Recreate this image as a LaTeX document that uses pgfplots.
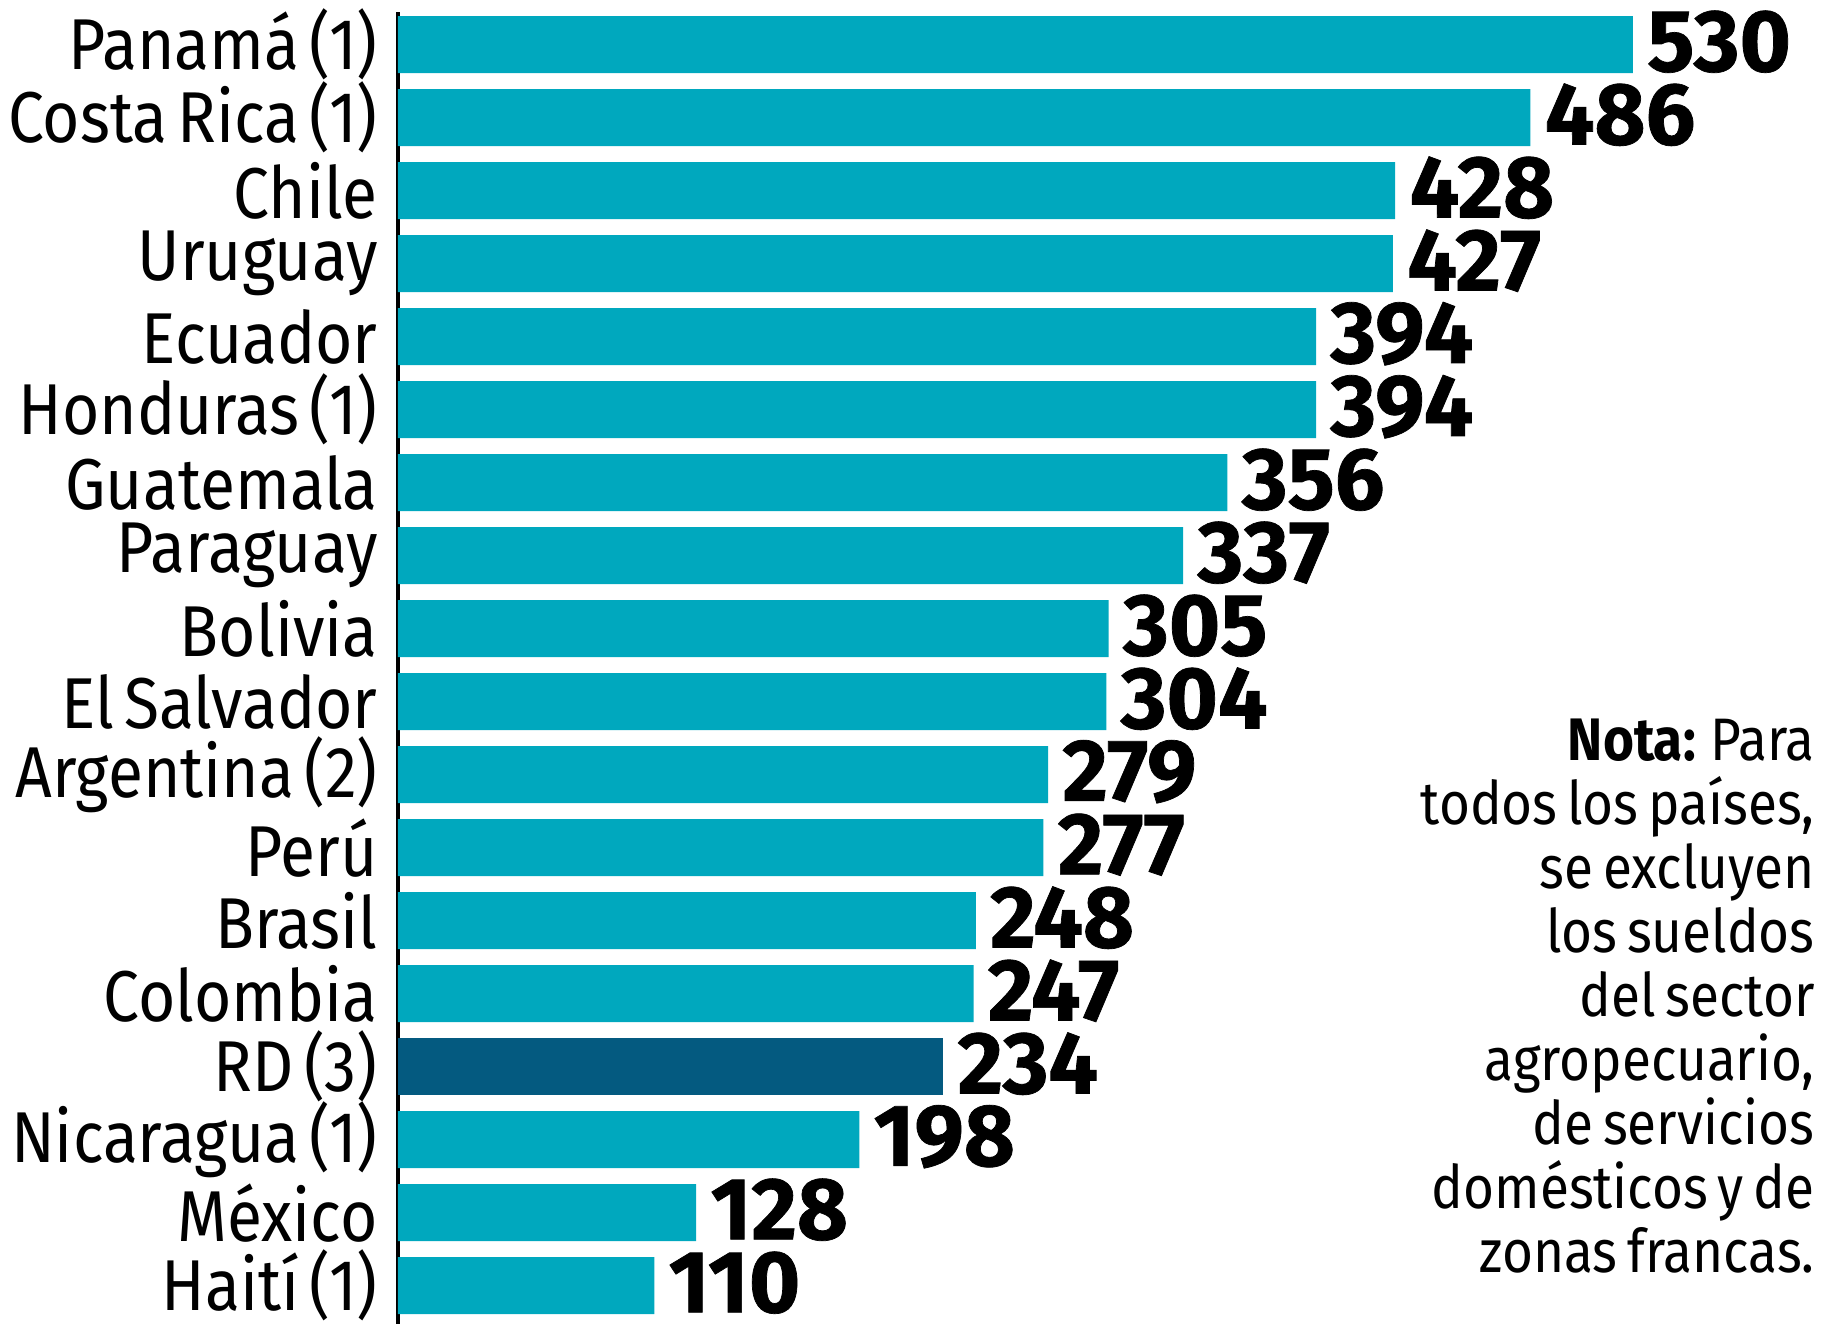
\documentclass[border=0pt]{standalone}
\usepackage{fontspec}
\setmainfont{Fira Sans}
\newfontfamily\labfont[FakeStretch=0.89, WordSpace=0.6]{Fira Sans}
\newfontfamily\notefont[FakeStretch=0.885, WordSpace=0.7]{Fira Sans}
\newfontfamily\numfont[FakeStretch=1.0, BoldFeatures={FakeBold=0.8}]{Fira Sans}
\usepackage{pgfplots}
\pgfplotsset{compat=1.18}
\definecolor{teal1}{RGB}{0,168,190}
\definecolor{navy1}{RGB}{4,90,128}
\begin{document}
\begin{tikzpicture}
\useasboundingbox (0,0) rectangle (910.5pt,668pt);
\begin{axis}[
  at={(199pt,6.17pt)}, anchor=south west,
  scale only axis, width=699pt, height=655.9pt,
  xmin=0, xmax=600, ymin=-0.52, ymax=17.45,
  xbar, bar width=28.5pt,
  axis x line=none, axis y line*=left,
  y axis line style={line width=1.75pt, black, -},
  ytick={0,...,17},
  yticklabels={{Haití (1)},{México},{Nicaragua (1)},{RD (3)},{Colombia},{Brasil},{Perú},{Argentina (2)},{El Salvador},{Bolivia},{Paraguay},{Guatemala\ },{Honduras (1)},{Ecuador},{Uruguay},{Chile},{Costa Rica (1)},{Panamá (1)}},
  major tick length=0pt,
  yticklabel style={font=\labfont\fontsize{36}{36}\selectfont, anchor=east, inner sep=0pt, xshift=-10pt},
  /pgf/number format/assume math mode=true,
  nodes near coords,
  nodes near coords style={font=\numfont\bfseries\fontsize{44}{44}\selectfont, anchor=west, inner sep=0pt, xshift=7pt, yshift=1.5pt, black},
  point meta=x,
]
\addplot[fill=teal1, draw=none, bar shift=0pt] coordinates {
(110,0) (128,1) (198,2) (247,4) (248,5) (277,6) (279,7) (304,8) (305,9) (337,10) (356,11) (394,12) (394,13) (427,14) (428,15) (486,16) (530,17)};
\addplot[fill=navy1, draw=none, bar shift=0pt] coordinates {(234,3)};
\end{axis}
\node[anchor=north east, align=right, inner sep=0pt, font=\notefont\fontsize{30}{32}\selectfont] at (907.5pt,308.5pt)
{\textbf{Nota:} Para\\todos los países,\\se excluyen\\los sueldos\\del sector\\agropecuario,\\de servicios\\domésticos y de\\zonas francas.};
\end{tikzpicture}
\end{document}
